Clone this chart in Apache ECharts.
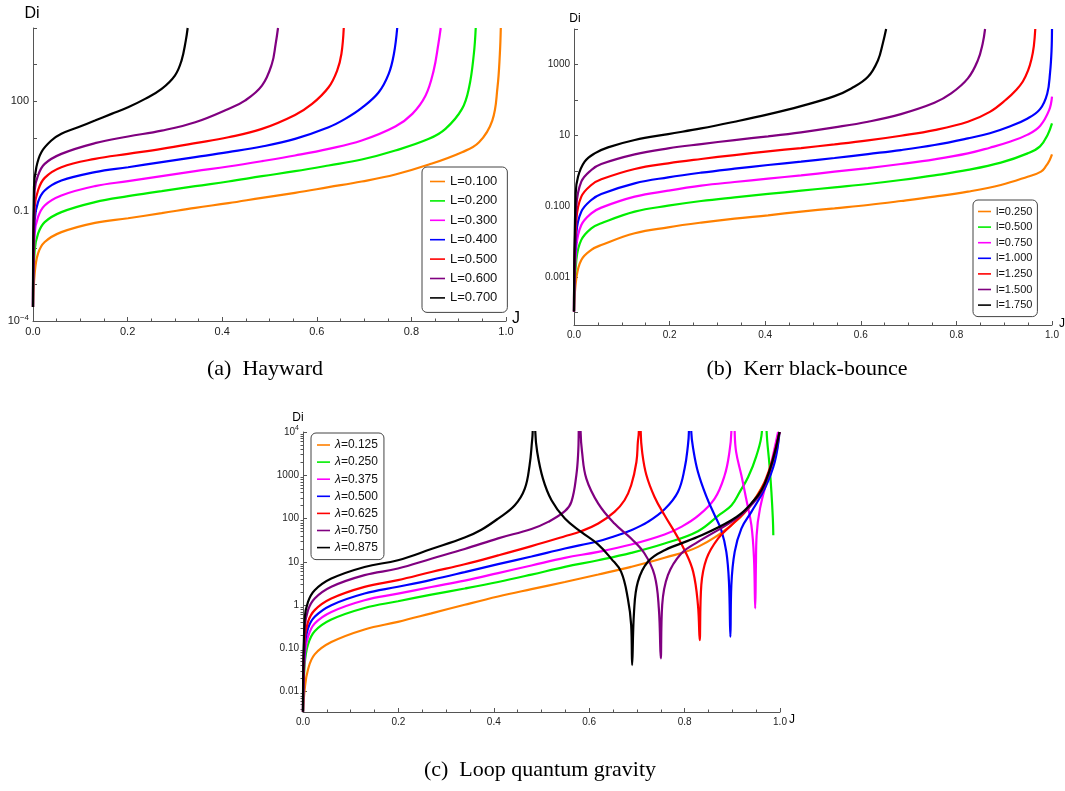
<!DOCTYPE html>
<html>
<head>
<meta charset="utf-8">
<script src="https://cdn.jsdelivr.net/npm/echarts@6/dist/echarts.min.js"></script>
<style>html,body{margin:0;padding:0;background:#fff;}#chart{width:1065px;height:791px;}</style>
</head>
<body>
<div id="chart"></div>
<script>
// ---------- tick labels ----------
const X_LABELS = ['0.0', '0.2', '0.4', '0.6', '0.8', '1.0'];
const HAY_Y_EXP = [-4, -1, 2];
const HAY_Y_TEXT = ['10{sup|−4}', '0.1', '100'];
const KBB_Y_EXP = [-3, -1, 1, 3];
const KBB_Y_TEXT = ['0.001', '0.100', '10', '1000'];
const LQG_Y_EXP = [-2, -1, 0, 1, 2, 3, 4];
const LQG_Y_TEXT = ['0.01', '0.10', '1', '10', '100', '1000', '10{sup|4}'];
const LQG_MINOR = [2, 3, 4, 5, 6, 7, 8, 9];

// ---------- series names ----------
const HAY_NAMES = ['L=0.100', 'L=0.200', 'L=0.300', 'L=0.400', 'L=0.500', 'L=0.600', 'L=0.700'];
const KBB_NAMES = ['l=0.250', 'l=0.500', 'l=0.750', 'l=1.000', 'l=1.250', 'l=1.500', 'l=1.750'];
const LQG_NAMES = ['λ=0.125', 'λ=0.250', 'λ=0.375', 'λ=0.500', 'λ=0.625', 'λ=0.750', 'λ=0.875'];

// ---------- (a) Hayward : [J, Di] ----------
const hay1 = [[0,2.4e-4],[0.0035,1.95e-3],[0.0106,6.9e-3],[0.0247,0.0143],[0.060,0.0267],[0.131,0.048],[0.201,0.064],[0.272,0.088],[0.343,0.123],[0.413,0.165],[0.484,0.231],[0.554,0.316],[0.625,0.452],[0.695,0.644],[0.766,1.0],[0.837,1.87],[0.907,4.07],[0.943,7.6],[0.971,29.7],[0.982,241],[0.987,1950],[0.989,1e4]];
const hay2 = [[0,2.4e-4],[0.0035,8.5e-3],[0.0106,0.0241],[0.0247,0.050],[0.060,0.094],[0.131,0.176],[0.201,0.256],[0.272,0.351],[0.343,0.481],[0.413,0.644],[0.484,0.90],[0.554,1.23],[0.625,1.76],[0.695,2.56],[0.766,4.52],[0.837,9.4],[0.872,17.6],[0.907,61.8],[0.922,241],[0.932,1950],[0.936,1e4]];
const hay3 = [[0,2.4e-4],[0.0035,0.0241],[0.0106,0.0686],[0.0247,0.143],[0.060,0.267],[0.131,0.481],[0.201,0.658],[0.272,0.90],[0.343,1.23],[0.413,1.65],[0.484,2.31],[0.554,3.30],[0.625,5.0],[0.695,8.46],[0.766,20.4],[0.802,45.2],[0.830,143],[0.847,686],[0.857,3660],[0.862,1e4]];
const hay4 = [[0,2.4e-4],[0.0035,0.0556],[0.0106,0.176],[0.0247,0.366],[0.060,0.686],[0.131,1.16],[0.201,1.58],[0.272,2.17],[0.343,2.97],[0.413,4.07],[0.484,5.8],[0.554,9.4],[0.625,19.5],[0.660,33],[0.695,65.8],[0.731,176],[0.752,556],[0.763,1950],[0.770,1e4]];
const hay5 = [[0,2.4e-4],[0.0035,0.129],[0.0106,0.366],[0.0247,0.81],[0.060,1.58],[0.131,2.67],[0.201,3.66],[0.272,5.0],[0.343,7.16],[0.413,10.4],[0.484,17.6],[0.554,42.4],[0.590,84.5],[0.625,241],[0.643,686],[0.652,1950],[0.657,1e4]];
const hay6 = [[0,2.4e-4],[0.0035,0.366],[0.0106,0.94],[0.0247,1.95],[0.060,3.66],[0.131,7.16],[0.201,10.9],[0.272,15.8],[0.343,26.7],[0.413,61.8],[0.448,104],[0.484,267],[0.505,1040],[0.513,3660],[0.518,1e4]];
const hay7 = [[0,2.4e-4],[0.0021,0.452],[0.0071,1.58],[0.0177,4.07],[0.0388,8.46],[0.060,12.9],[0.0953,19.5],[0.131,29.7],[0.166,45.2],[0.201,68.6],[0.237,116],[0.272,217],[0.300,501],[0.314,1290],[0.323,4520],[0.327,1e4]];

// ---------- (b) Kerr black-bounce : [J, Di] ----------
const kbb1 = [[0,1.08e-4],[0.0049,9.4e-4],[0.0153,3.08e-3],[0.0362,5.9e-3],[0.0571,8.1e-3],[0.127,0.0174],[0.197,0.0256],[0.266,0.0347],[0.336,0.045],[0.406,0.0558],[0.475,0.0708],[0.545,0.0879],[0.615,0.109],[0.684,0.141],[0.754,0.187],[0.824,0.259],[0.893,0.399],[0.949,0.685],[0.977,0.95],[0.988,1.4],[0.995,2.0],[1.0,2.9]];
const kbb2 = [[0,1.08e-4],[0.0049,3.08e-3],[0.0153,0.0113],[0.0362,0.024],[0.0571,0.0332],[0.127,0.0708],[0.197,0.104],[0.266,0.141],[0.336,0.179],[0.406,0.223],[0.475,0.276],[0.545,0.343],[0.615,0.426],[0.684,0.552],[0.754,0.746],[0.824,1.06],[0.893,1.70],[0.949,3.11],[0.975,4.9],[0.991,10.5],[1.0,21.8]];
const kbb3 = [[0,1.08e-4],[0.0049,7.3e-3],[0.0153,0.0298],[0.0362,0.0635],[0.0571,0.0918],[0.127,0.187],[0.197,0.276],[0.266,0.382],[0.336,0.485],[0.406,0.603],[0.475,0.746],[0.545,0.948],[0.615,1.20],[0.684,1.56],[0.754,2.11],[0.824,3.11],[0.870,4.5],[0.910,6.5],[0.949,10.5],[0.975,18.5],[0.994,51.6],[1.0,124]];
const kbb4 = [[0,1.08e-4],[0.0049,0.0174],[0.0153,0.0708],[0.0362,0.151],[0.0571,0.223],[0.127,0.445],[0.197,0.656],[0.266,0.889],[0.336,1.15],[0.406,1.46],[0.475,1.81],[0.545,2.30],[0.615,2.98],[0.684,3.86],[0.754,5.35],[0.824,8.24],[0.870,11.5],[0.910,17.5],[0.949,30],[0.975,55],[0.990,150],[0.996,600],[0.999,2400],[1.0,1e4]];
const kbb5 = [[0,1.08e-4],[0.0049,0.0412],[0.0153,0.187],[0.0362,0.399],[0.0571,0.577],[0.127,1.13],[0.197,1.63],[0.266,2.16],[0.336,2.79],[0.406,3.54],[0.475,4.40],[0.545,5.58],[0.615,7.23],[0.684,9.79],[0.754,14.1],[0.824,24.3],[0.870,46],[0.905,105],[0.925,190],[0.939,330],[0.950,680],[0.957,1400],[0.962,3300],[0.965,1e4]];
const kbb6 = [[0,1.08e-4],[0.0049,0.098],[0.0153,0.495],[0.0362,1.06],[0.0571,1.56],[0.127,2.92],[0.197,4.31],[0.266,5.70],[0.336,7.39],[0.406,9.38],[0.475,12.2],[0.545,16.8],[0.615,24.3],[0.684,39.9],[0.754,83.2],[0.789,152],[0.824,404],[0.845,1320],[0.855,3910],[0.860,1e4]];
const kbb7 = [[0,1.08e-4],[0.0035,0.232],[0.0084,0.685],[0.0223,1.81],[0.0432,3.11],[0.0711,4.59],[0.127,7.39],[0.197,10.9],[0.266,15.7],[0.336,24.3],[0.406,39.1],[0.475,67.0],[0.545,128],[0.580,211],[0.615,450],[0.636,1320],[0.646,3910],[0.653,1e4]];

// ---------- (c) Loop quantum gravity : [J, Di] (peaks diverge above the frame) ----------
const lqg1 = [[0,3.45e-3],[0.0035,0.0113],[0.0105,0.0327],[0.0245,0.0728],[0.0594,0.140],[0.129,0.274],[0.199,0.411],[0.269,0.646],[0.339,1.02],[0.409,1.58],[0.479,2.34],[0.549,3.43],[0.619,5.10],[0.688,7.67],[0.758,12.4],[0.828,22.2],[0.898,70.2],[0.933,170],[0.968,701],[0.989,2430],[0.999,1e4]];
const lqg2 = [[0,3.45e-3],[0.0035,0.0426],[0.0105,0.123],[0.0245,0.250],[0.0594,0.466],[0.129,0.862],[0.199,1.23],[0.269,1.75],[0.339,2.42],[0.409,3.43],[0.479,5.08],[0.549,7.67],[0.619,10.9],[0.688,16.1],[0.758,26.5],[0.828,51.1],[0.874,125],[0.898,200],[0.916,420],[0.933,900],[0.950,2700],[0.962,1e4],[0.967,1e6],[0.972,1e4],[0.978,1700],[0.982,412],[0.985,100],[0.986,41]];
const lqg3 = [[0,3.45e-3],[0.0035,0.0638],[0.0105,0.185],[0.0245,0.375],[0.0594,0.695],[0.129,1.30],[0.199,1.84],[0.269,2.62],[0.339,3.69],[0.409,5.50],[0.479,8.26],[0.549,12.4],[0.619,17.0],[0.688,25.1],[0.758,42.8],[0.793,64.3],[0.828,115],[0.863,290],[0.884,1000],[0.894,3460],[0.898,1e4],[0.9015,1e6],[0.905,1e4],[0.908,3460],[0.919,1000],[0.929,290],[0.940,70.2],[0.9455,11.9],[0.948,0.84],[0.9495,8],[0.951,41],[0.958,170],[0.979,1420],[0.996,1e4]];
const lqg4 = [[0,3.45e-3],[0.0035,0.100],[0.0105,0.290],[0.0245,0.540],[0.0594,1.00],[0.129,1.86],[0.199,2.66],[0.269,3.85],[0.339,5.80],[0.409,8.86],[0.479,13.3],[0.549,20.3],[0.619,30.0],[0.653,39.1],[0.688,53.8],[0.723,83.8],[0.758,164],[0.786,412],[0.800,1430],[0.807,4920],[0.809,1e4],[0.8115,1e6],[0.814,1e4],[0.818,4120],[0.828,1190],[0.846,316],[0.863,119],[0.877,53.8],[0.8875,17.0],[0.893,3.45],[0.896,0.186],[0.898,2.89],[0.905,17.0],[0.919,58.8],[0.940,143],[0.968,492],[0.989,2030],[0.999,1e4]];
const lqg5 = [[0,3.45e-3],[0.0035,0.156],[0.0105,0.412],[0.0245,0.768],[0.0594,1.42],[0.129,2.64],[0.199,3.77],[0.269,5.82],[0.339,8.79],[0.409,14.1],[0.479,23.1],[0.549,39.1],[0.583,51.1],[0.619,76.7],[0.653,143],[0.674,265],[0.688,588],[0.699,2030],[0.702,5870],[0.704,1e4],[0.706,1e6],[0.708,1e4],[0.711,3460],[0.720,1000],[0.737,316],[0.758,119],[0.779,49.2],[0.800,18.6],[0.818,5.87],[0.828,1.0],[0.8316,0.156],[0.835,2.89],[0.846,11.9],[0.870,34.5],[0.898,70.2],[0.933,170],[0.968,701],[0.999,1e4]];
const lqg6 = [[0,3.45e-3],[0.0035,0.290],[0.0105,0.766],[0.0245,1.43],[0.0594,2.66],[0.129,4.94],[0.199,7.01],[0.269,11.8],[0.339,19.8],[0.409,34.9],[0.479,57.5],[0.514,83.8],[0.549,148],[0.5626,243],[0.573,1000],[0.577,3460],[0.578,1e4],[0.580,1e6],[0.582,1e4],[0.585,3460],[0.594,838],[0.619,222],[0.653,76.7],[0.688,34.5],[0.716,15.6],[0.737,4.92],[0.746,0.84],[0.750,0.0588],[0.753,1.0],[0.765,4.92],[0.793,15.6],[0.828,28.9],[0.898,83.8],[0.933,170],[0.968,588],[0.999,1e4]];
const lqg7 = [[0,3.45e-3],[0.0035,0.491],[0.0105,1.19],[0.0245,2.21],[0.0594,4.11],[0.129,7.63],[0.199,10.9],[0.269,19.8],[0.339,36.5],[0.374,55.3],[0.409,100],[0.444,203],[0.465,492],[0.475,1700],[0.480,5870],[0.4815,1e4],[0.484,1e6],[0.487,1e4],[0.491,3460],[0.503,838],[0.521,265],[0.549,100],[0.583,49.2],[0.619,25.1],[0.646,11.9],[0.667,5.87],[0.681,1.43],[0.688,0.346],[0.690,0.0412],[0.694,0.702],[0.702,3.45],[0.723,10.1],[0.758,18.6],[0.828,37.8],[0.898,91.6],[0.933,186],[0.968,643],[0.999,1e4]];

const HAY_DATA = [hay1, hay2, hay3, hay4, hay5, hay6, hay7];
const KBB_DATA = [kbb1, kbb2, kbb3, kbb4, kbb5, kbb6, kbb7];
const LQG_DATA = [lqg1, lqg2, lqg3, lqg4, lqg5, lqg6, lqg7];

// ---------- styles ----------
const COLORS = ['#ff8000', '#00ee00', '#ff00ff', '#0000ff', '#ff0000', '#800080', '#000000'];
const SANS = '"Liberation Sans", Arial, sans-serif';
const SERIF = '"Liberation Serif", "Times New Roman", serif';
const AXIS_COLOR = '#555';

function expLabel(exps, texts) {
  return function (v) {
    const l = Math.log10(v);
    const e = Math.round(l);
    if (Math.abs(l - e) > 1e-6) return '';
    const i = exps.indexOf(e);
    return i < 0 ? '' : texts[i];
  };
}

function xAxisCfg(gi, fs) {
  return {
    gridIndex: gi, type: 'value', min: 0, max: 1, interval: 0.2,
    axisLine: { onZero: false, lineStyle: { color: AXIS_COLOR, width: 1 } },
    axisTick: { inside: true, length: 4, lineStyle: { color: AXIS_COLOR } },
    minorTick: { show: true, splitNumber: 4, length: 2.5, lineStyle: { color: AXIS_COLOR } },
    splitLine: { show: false },
    axisLabel: { fontSize: fs, color: '#222', margin: 5, fontFamily: SANS,
      formatter: v => X_LABELS[Math.round(v / 0.2)] }
  };
}

function yAxisCfg(gi, min, max, fs, exps, texts) {
  return {
    gridIndex: gi, type: 'log', logBase: 10, min: min, max: max, splitNumber: 8,
    axisLine: { onZero: false, lineStyle: { color: AXIS_COLOR, width: 1 } },
    axisTick: { inside: true, length: 4, lineStyle: { color: AXIS_COLOR } },
    splitLine: { show: false },
    axisLabel: { fontSize: fs, color: '#222', margin: 4, fontFamily: SANS,
      formatter: expLabel(exps, texts),
      rich: { sup: { fontSize: fs - 3, padding: [0, 0, 7, 0], fontFamily: SANS, color: '#222' } } }
  };
}

const minorVals = [];
for (let e = -3; e <= 3; e++) for (const m of LQG_MINOR) minorVals.push(m * Math.pow(10, e));

const series = [];
function addSeries(names, datas, gi, yi) {
  names.forEach((n, i) => {
    series.push({
      name: n, type: 'line', xAxisIndex: gi, yAxisIndex: yi, data: datas[i],
      showSymbol: false, symbol: 'none', smooth: 0.4, clip: true,
      lineStyle: { width: 2.2, color: COLORS[i] }, itemStyle: { color: COLORS[i] }, z: 2 + i
    });
  });
}
addSeries(HAY_NAMES, HAY_DATA, 0, 0);
addSeries(KBB_NAMES, KBB_DATA, 1, 1);
addSeries(LQG_NAMES, LQG_DATA, 2, 2);

function legendCfg(names, left, top, fs, iw, gap, pad, extra) {
  return Object.assign({
    data: names, left: left, top: top, orient: 'vertical', icon: 'rect',
    itemWidth: iw, itemHeight: 1.6, itemGap: gap, padding: pad,
    borderColor: '#444', borderWidth: 1, borderRadius: 5, backgroundColor: '#fff',
    selectedMode: false,
    textStyle: { fontSize: fs, color: '#111', fontFamily: SANS }
  }, extra || {});
}

function txt(text, x, y, font, align) {
  return { type: 'text', x: x, y: y, silent: true,
    style: { text: text, font: font, fill: '#000', align: align || 'center', verticalAlign: 'middle' } };
}

const option = {
  animation: false,
  backgroundColor: '#fff',
  grid: [
    { left: 33, top: 28, width: 473, height: 293 },
    { left: 574, top: 29, width: 478, height: 296 },
    { left: 303, top: 432, width: 477, height: 280 }
  ],
  xAxis: [xAxisCfg(0, 11), xAxisCfg(1, 10), xAxisCfg(2, 10)],
  yAxis: [
    yAxisCfg(0, 1e-4, 1e4, 11, HAY_Y_EXP, HAY_Y_TEXT),
    yAxisCfg(1, 4.5e-5, 1e4, 10, KBB_Y_EXP, KBB_Y_TEXT),
    yAxisCfg(2, 3.4e-3, 1e4, 10, LQG_Y_EXP, LQG_Y_TEXT),
    {
      gridIndex: 2, type: 'log', logBase: 10, min: 3.4e-3, max: 1e4,
      axisLine: { show: false }, axisLabel: { show: false }, splitLine: { show: false },
      axisTick: { show: true, inside: true, length: 2.5, customValues: minorVals, lineStyle: { color: AXIS_COLOR } }
    }
  ],
  legend: [
    legendCfg(HAY_NAMES, 422, 167, 13, 15, 6.4, [8, 10, 8, 8]),
    legendCfg(KBB_NAMES, 973, 200, 11, 13, 4.6, [6, 5, 6, 5]),
    legendCfg(LQG_NAMES, 311, 433, 12, 13, 5.1, [6, 6, 6, 6], {
      formatter: n => '{i|λ}' + n.slice(1),
      textStyle: { fontSize: 12, color: '#111', fontFamily: SANS,
        rich: { i: { fontStyle: 'italic', fontSize: 12, fontFamily: SANS } } }
    })
  ],
  graphic: [
    txt('Di', 32, 14, '16px ' + SANS),
    txt('J', 516, 319, '16px ' + SANS),
    txt('Di', 575, 19, '12px ' + SANS),
    txt('J', 1062, 324, '12px ' + SANS),
    txt('Di', 298, 418, '12px ' + SANS),
    txt('J', 792, 720, '12px ' + SANS),
    txt('(a)  Hayward', 265, 369, '22px ' + SERIF),
    txt('(b)  Kerr black-bounce', 807, 369, '22px ' + SERIF),
    txt('(c)  Loop quantum gravity', 540, 770, '22px ' + SERIF)
  ],
  series: series
};

const chart = echarts.init(document.getElementById('chart'), null, { renderer: 'canvas' });
chart.setOption(option);
</script>
</body>
</html>
